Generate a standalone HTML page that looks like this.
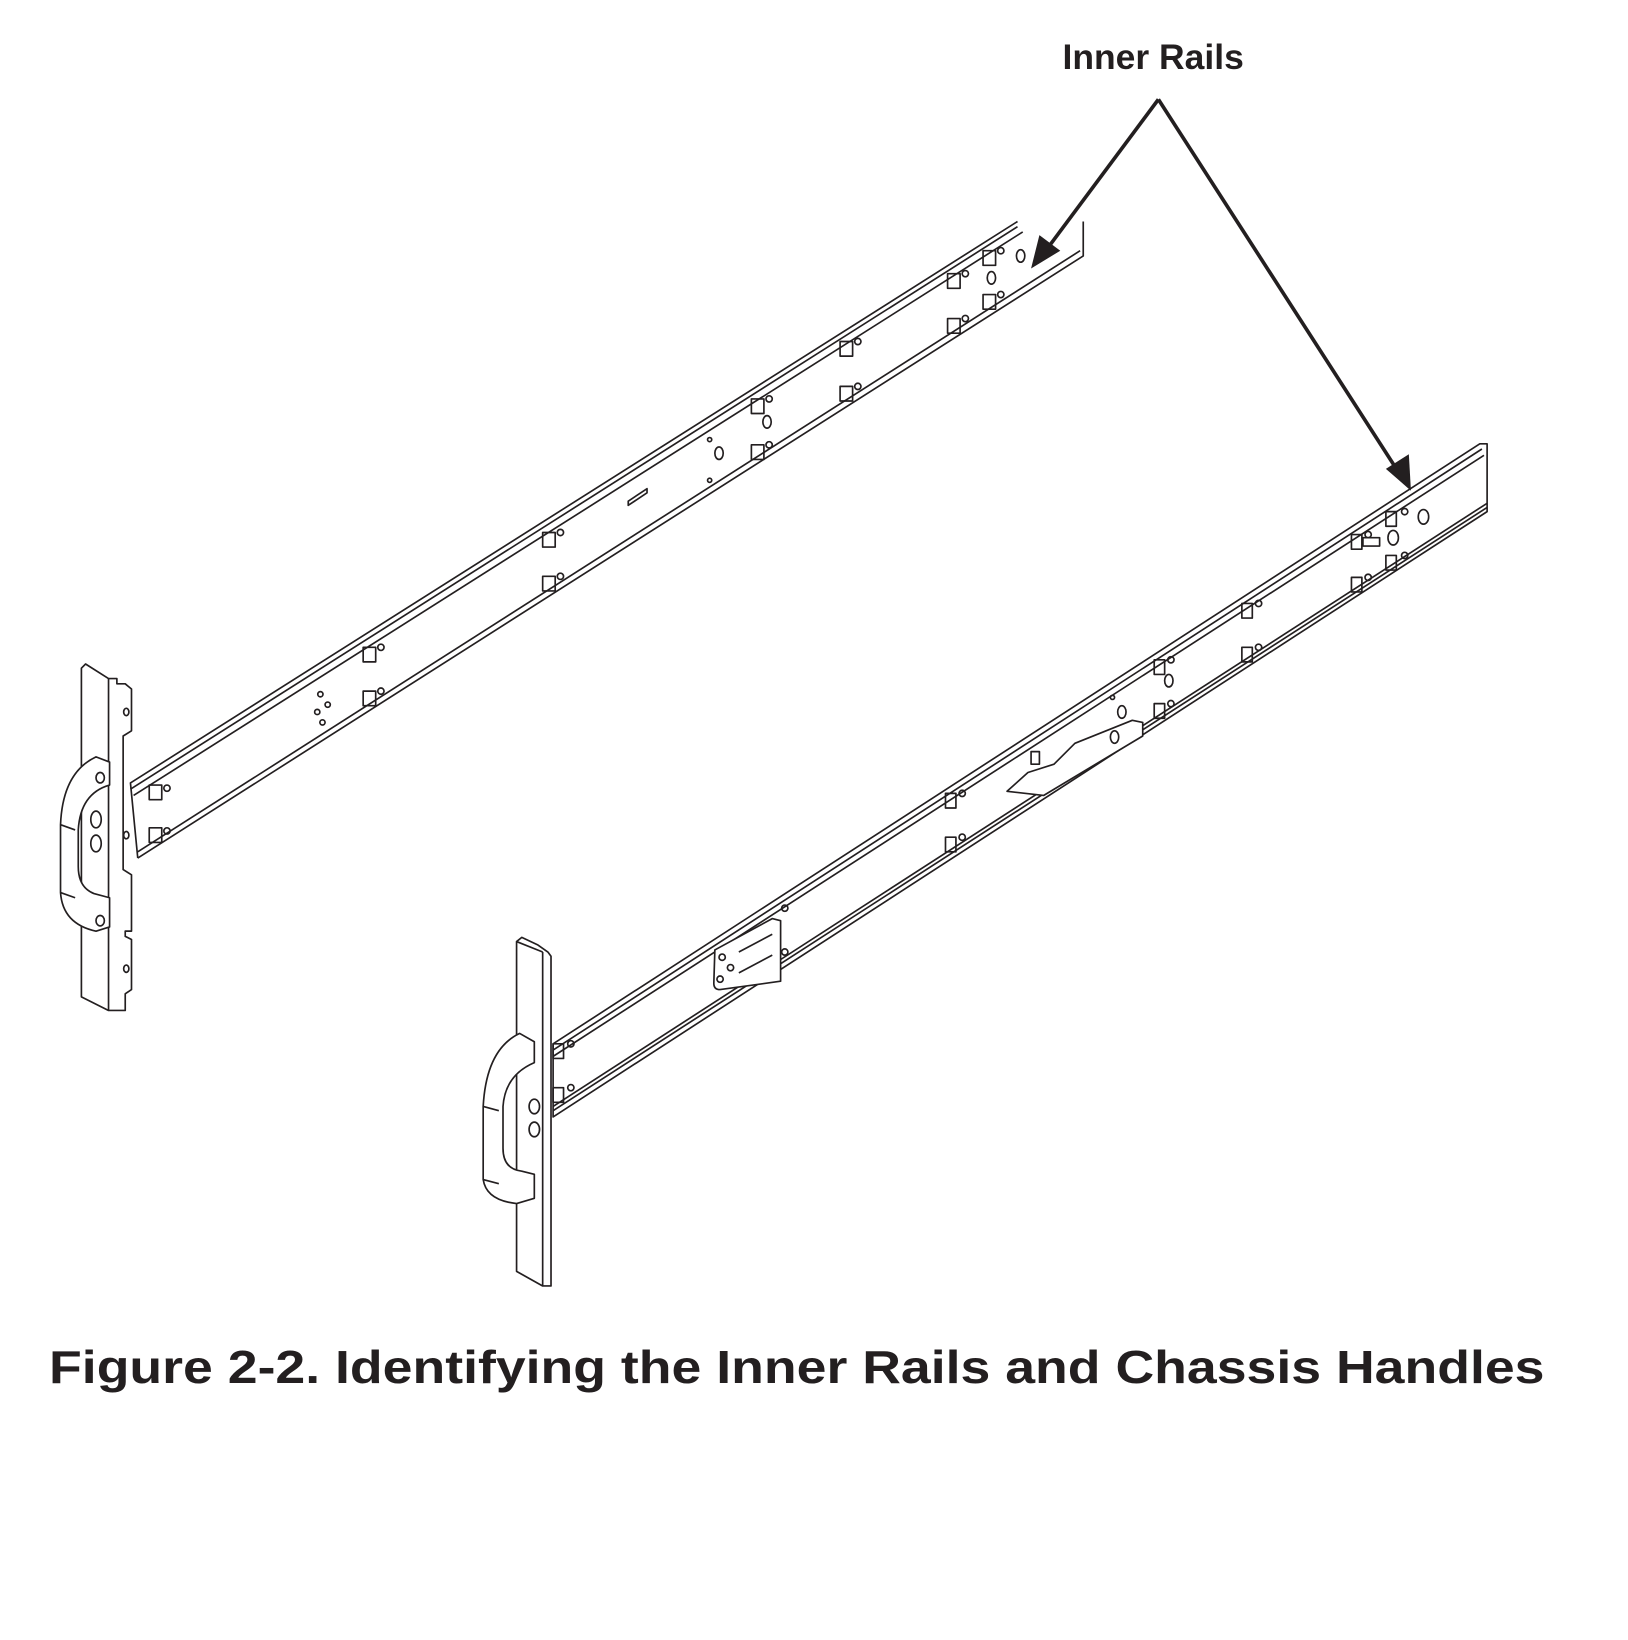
<!DOCTYPE html>
<html><head><meta charset="utf-8"><style>
html,body{margin:0;padding:0;background:#fff;}
svg{display:block;}
</style></head><body>
<svg width="1628" height="1640" viewBox="0 0 1560 1571" xmlns="http://www.w3.org/2000/svg" font-family="Liberation Sans, Arial, sans-serif">
<rect width="1560" height="1571" fill="#fff"/>
<text x="1105" y="66" font-size="34" font-weight="bold" text-anchor="middle" fill="#231f20">Inner Rails</text>

<g stroke="#231f20" stroke-width="1.6" fill="none" stroke-linejoin="round">
<!-- left rail -->
<polygon points="125,750 970,212 1038,212 1038,245 132,822" fill="#fff" stroke="none"/>
<path d="M132,822 L125,750 L975,212"/>
<path d="M1038,212 L1038,245 L132,822"/>
<line x1="125" y1="756" x2="975" y2="217"/>
<line x1="128" y1="762" x2="980" y2="222"/>
<line x1="132" y1="816" x2="1035" y2="240"/>
<!-- left bracket -->
<path d="M78,640 L82,636 L104,650 L112,650 L112,655 L120,655 L126,660 L126,700 L118,705 L118,833 L126,838 L126,892 L120,892 L120,897 L126,900 L126,948 L120,952 L120,968 L104,968 L78,955 Z" fill="#fff"/>
<line x1="104" y1="650" x2="104" y2="968"/>
<ellipse cx="121" cy="682" rx="2.5" ry="3.5"/>
<ellipse cx="121" cy="800" rx="2.5" ry="3.5"/>
<ellipse cx="121" cy="928" rx="2.5" ry="3.5"/>
<!-- left handle -->
<path d="M105,730 L92,725 Q60,740 58,790 L58,855 Q60,885 92,892 L105,888 L105,860 L90,856 Q75,850 75,830 L75,795 Q77,760 105,752 Z" fill="#fff"/>
<line x1="58" y1="790" x2="72" y2="795"/>
<line x1="58" y1="855" x2="72" y2="860"/>
<ellipse cx="92" cy="785" rx="5" ry="8"/>
<ellipse cx="92" cy="808" rx="5" ry="8"/>
<ellipse cx="96" cy="745" rx="4" ry="5"/>
<ellipse cx="96" cy="882" rx="4" ry="5"/>
<!-- left rail holes -->
<rect x="143" y="752" width="12" height="14"/><circle cx="160" cy="755" r="3"/>
<rect x="143" y="793" width="12" height="14"/><circle cx="160" cy="796" r="3"/>
<rect x="348" y="620" width="12" height="14"/><circle cx="365" cy="620" r="3"/>
<rect x="348" y="662" width="12" height="14"/><circle cx="365" cy="662" r="3"/>
<circle cx="307" cy="665" r="2.5"/><circle cx="314" cy="675" r="2.5"/><circle cx="304" cy="682" r="2.5"/><circle cx="309" cy="692" r="2.5"/>
<rect x="520" y="510" width="12" height="14"/><circle cx="537" cy="510" r="3"/>
<rect x="520" y="552" width="12" height="14"/><circle cx="537" cy="552" r="3"/>
<polygon points="602,480 620,468 620,472 602,484"/>
<circle cx="680" cy="421" r="2"/><ellipse cx="689" cy="434" rx="4" ry="6"/><circle cx="680" cy="460" r="2"/>
<rect x="720" y="382" width="12" height="14"/><circle cx="737" cy="382" r="3"/>
<ellipse cx="735" cy="404" rx="4" ry="6"/>
<rect x="720" y="426" width="12" height="14"/><circle cx="737" cy="426" r="3"/>
<rect x="805" y="327" width="12" height="14"/><circle cx="822" cy="327" r="3"/>
<rect x="805" y="370" width="12" height="14"/><circle cx="822" cy="370" r="3"/>
<rect x="908" y="262" width="12" height="14"/><circle cx="925" cy="262" r="3"/>
<rect x="908" y="305" width="12" height="14"/><circle cx="925" cy="305" r="3"/>
<rect x="942" y="240" width="12" height="14"/><circle cx="959" cy="240" r="3"/>
<ellipse cx="950" cy="266" rx="4" ry="6"/>
<rect x="942" y="282" width="12" height="14"/><circle cx="959" cy="282" r="3"/>
<ellipse cx="978" cy="245" rx="4" ry="6"/>

<!-- right rail -->
<polygon points="530,1000 1418,425 1425,425 1425,490 530,1070" fill="#fff"/>
<line x1="530" y1="1006" x2="1420" y2="430"/>
<line x1="530" y1="1012" x2="1422" y2="436"/>
<line x1="530" y1="1060" x2="1425" y2="482"/>
<line x1="530" y1="1064" x2="1425" y2="486"/>
<!-- right bracket -->
<path d="M495,902 L500,898 L515,905 L525,912 L528,916 L528,1232 L520,1232 L495,1218 Z" fill="#fff"/>
<line x1="520" y1="912" x2="520" y2="1232"/>
<line x1="495" y1="902" x2="520" y2="912"/>
<!-- right handle -->
<path d="M512,998 L498,990 Q466,1005 463,1060 L463,1130 Q466,1150 495,1153 L512,1148 L512,1125 L500,1122 Q482,1120 482,1100 L482,1060 Q484,1030 512,1018 Z" fill="#fff"/>
<line x1="463" y1="1060" x2="478" y2="1064"/>
<line x1="463" y1="1130" x2="478" y2="1134"/>
<ellipse cx="512" cy="1060" rx="5" ry="7"/>
<ellipse cx="512" cy="1082" rx="5" ry="7"/>
<!-- right rail holes -->
<rect x="530" y="1000" width="10" height="14"/><circle cx="547" cy="1000" r="3"/>
<rect x="530" y="1042" width="10" height="14"/><circle cx="547" cy="1042" r="3"/>
<path d="M685,910 L740,880 L748,882 L748,940 L690,948 Q684,948 684,942 Z" fill="#fff"/>
<circle cx="692" cy="917" r="3"/><circle cx="700" cy="927" r="3"/><circle cx="690" cy="938" r="3"/>
<line x1="708" y1="912" x2="740" y2="895"/><line x1="708" y1="932" x2="740" y2="915"/>
<circle cx="752" cy="870" r="3"/><circle cx="752" cy="912" r="3"/>
<rect x="906" y="760" width="10" height="14"/><circle cx="922" cy="760" r="3"/>
<rect x="906" y="802" width="10" height="14"/><circle cx="922" cy="802" r="3"/>
<path d="M965,758 L985,740 L1010,732 L1030,712 L1085,690 L1095,692 L1095,705 L1000,762 Z" fill="#fff"/>
<ellipse cx="1068" cy="706" rx="4" ry="6"/>
<rect x="988" y="720" width="8" height="12"/>
<circle cx="1066" cy="668" r="2"/><ellipse cx="1075" cy="682" rx="4" ry="6"/>
<rect x="1106" y="632" width="10" height="14"/><circle cx="1122" cy="632" r="3"/>
<ellipse cx="1120" cy="652" rx="4" ry="6"/>
<rect x="1106" y="674" width="10" height="14"/><circle cx="1122" cy="674" r="3"/>
<rect x="1190" y="578" width="10" height="14"/><circle cx="1206" cy="578" r="3"/>
<rect x="1190" y="620" width="10" height="14"/><circle cx="1206" cy="620" r="3"/>
<rect x="1295" y="512" width="10" height="14"/><circle cx="1311" cy="512" r="3"/>
<rect x="1295" y="553" width="10" height="14"/><circle cx="1311" cy="553" r="3"/>
<rect x="1306" y="515" width="16" height="8"/>
<rect x="1328" y="490" width="10" height="14"/><circle cx="1346" cy="490" r="3"/>
<ellipse cx="1335" cy="515" rx="5" ry="7"/>
<rect x="1328" y="532" width="10" height="14"/><circle cx="1346" cy="532" r="3"/>
<ellipse cx="1364" cy="495" rx="5" ry="7"/>
</g>

<g stroke="#231f20" stroke-width="3.5" fill="none">
<line x1="1110" y1="95" x2="1005" y2="236"/>
<line x1="1110" y1="95" x2="1340" y2="452"/>
</g>
<polygon points="988,257 996,225 1016,240" fill="#231f20"/>
<polygon points="1352,470 1328,449 1350,435" fill="#231f20"/>

<text x="47" y="1325" font-size="44" font-weight="bold" fill="#231f20" textLength="1433" lengthAdjust="spacingAndGlyphs">Figure 2-2. Identifying the Inner Rails and Chassis Handles</text>
</svg>
</body></html>
